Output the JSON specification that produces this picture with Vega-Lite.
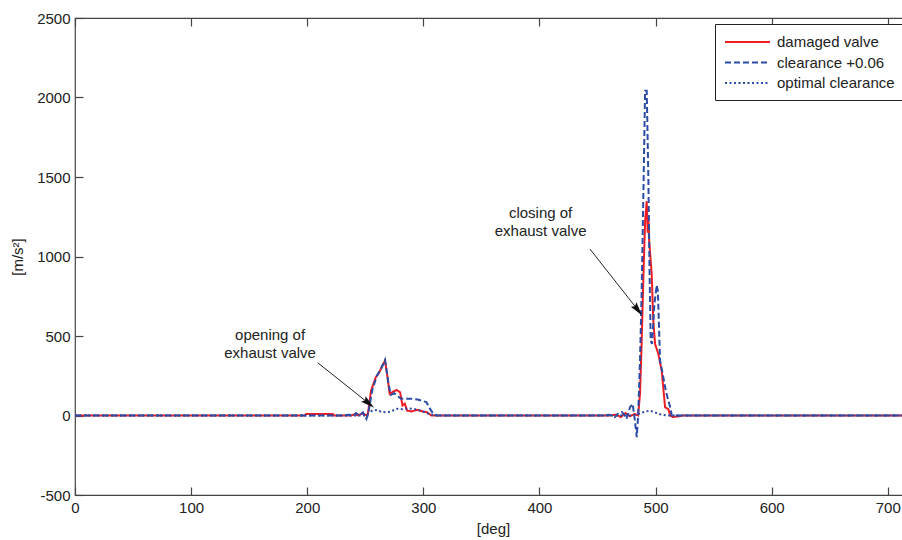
{
  "$schema": "https://vega.github.io/schema/vega-lite/v6.json",
  "width": 836,
  "height": 477,
  "autosize": {"type": "none"},
  "padding": {"left": 75, "top": 18, "right": 0, "bottom": 45},
  "background": "white",
  "config": {
    "font": "Liberation Sans",
    "view": {"stroke": "#444", "strokeWidth": 1.2},
    "axis": {"labelFont": "Liberation Sans", "labelFontSize": 15, "labelColor": "#222", "labelFlush": false, "labelExpr": "'' + datum.value", "titleFont": "Liberation Sans", "titleFontSize": 15, "titleFontWeight": "normal", "titleColor": "#222", "domainColor": "#444", "tickColor": "#444", "tickWidth": 1.2, "grid": false}
  },
  "datasets": {
    "curves": [
      {"deg": 0, "acc": 0, "series": "damaged valve"},
      {"deg": 198, "acc": 0, "series": "damaged valve"},
      {"deg": 199, "acc": 10, "series": "damaged valve"},
      {"deg": 222, "acc": 10, "series": "damaged valve"},
      {"deg": 223, "acc": 0, "series": "damaged valve"},
      {"deg": 238, "acc": 0, "series": "damaged valve"},
      {"deg": 241, "acc": 8, "series": "damaged valve"},
      {"deg": 244, "acc": 0, "series": "damaged valve"},
      {"deg": 247, "acc": 12, "series": "damaged valve"},
      {"deg": 250, "acc": 5, "series": "damaged valve"},
      {"deg": 252, "acc": 0, "series": "damaged valve"},
      {"deg": 255, "acc": 157, "series": "damaged valve"},
      {"deg": 259, "acc": 240, "series": "damaged valve"},
      {"deg": 262, "acc": 270, "series": "damaged valve"},
      {"deg": 264, "acc": 303, "series": "damaged valve"},
      {"deg": 267, "acc": 345, "series": "damaged valve"},
      {"deg": 269, "acc": 250, "series": "damaged valve"},
      {"deg": 271, "acc": 136, "series": "damaged valve"},
      {"deg": 274, "acc": 150, "series": "damaged valve"},
      {"deg": 277, "acc": 161, "series": "damaged valve"},
      {"deg": 280, "acc": 146, "series": "damaged valve"},
      {"deg": 282, "acc": 63, "series": "damaged valve"},
      {"deg": 284, "acc": 75, "series": "damaged valve"},
      {"deg": 286, "acc": 31, "series": "damaged valve"},
      {"deg": 290, "acc": 25, "series": "damaged valve"},
      {"deg": 294, "acc": 35, "series": "damaged valve"},
      {"deg": 297, "acc": 31, "series": "damaged valve"},
      {"deg": 300, "acc": 25, "series": "damaged valve"},
      {"deg": 303, "acc": 21, "series": "damaged valve"},
      {"deg": 307, "acc": 0, "series": "damaged valve"},
      {"deg": 460, "acc": 0, "series": "damaged valve"},
      {"deg": 466, "acc": 5, "series": "damaged valve"},
      {"deg": 470, "acc": -10, "series": "damaged valve"},
      {"deg": 474, "acc": 15, "series": "damaged valve"},
      {"deg": 478, "acc": -5, "series": "damaged valve"},
      {"deg": 482, "acc": 10, "series": "damaged valve"},
      {"deg": 485, "acc": 0, "series": "damaged valve"},
      {"deg": 486.6, "acc": 136, "series": "damaged valve"},
      {"deg": 488, "acc": 450, "series": "damaged valve"},
      {"deg": 489.5, "acc": 867, "series": "damaged valve"},
      {"deg": 491, "acc": 1223, "series": "damaged valve"},
      {"deg": 492.4, "acc": 1348, "series": "damaged valve"},
      {"deg": 493.2, "acc": 1150, "series": "damaged valve"},
      {"deg": 493.8, "acc": 1250, "series": "damaged valve"},
      {"deg": 494.5, "acc": 1100, "series": "damaged valve"},
      {"deg": 496.7, "acc": 888, "series": "damaged valve"},
      {"deg": 498, "acc": 600, "series": "damaged valve"},
      {"deg": 499.6, "acc": 450, "series": "damaged valve"},
      {"deg": 502.4, "acc": 387, "series": "damaged valve"},
      {"deg": 505.3, "acc": 282, "series": "damaged valve"},
      {"deg": 508.2, "acc": 52, "series": "damaged valve"},
      {"deg": 511, "acc": 40, "series": "damaged valve"},
      {"deg": 512.6, "acc": 0, "series": "damaged valve"},
      {"deg": 515, "acc": -10, "series": "damaged valve"},
      {"deg": 520, "acc": -5, "series": "damaged valve"},
      {"deg": 523, "acc": 0, "series": "damaged valve"},
      {"deg": 720, "acc": 0, "series": "damaged valve"},

      {"deg": 0, "acc": 0, "series": "clearance +0.06"},
      {"deg": 230, "acc": 0, "series": "clearance +0.06"},
      {"deg": 236, "acc": 5, "series": "clearance +0.06"},
      {"deg": 240, "acc": 0, "series": "clearance +0.06"},
      {"deg": 242, "acc": 15, "series": "clearance +0.06"},
      {"deg": 245, "acc": 0, "series": "clearance +0.06"},
      {"deg": 248, "acc": 20, "series": "clearance +0.06"},
      {"deg": 251, "acc": -21, "series": "clearance +0.06"},
      {"deg": 253, "acc": 30, "series": "clearance +0.06"},
      {"deg": 256, "acc": 160, "series": "clearance +0.06"},
      {"deg": 260, "acc": 250, "series": "clearance +0.06"},
      {"deg": 264, "acc": 300, "series": "clearance +0.06"},
      {"deg": 267, "acc": 350, "series": "clearance +0.06"},
      {"deg": 270, "acc": 200, "series": "clearance +0.06"},
      {"deg": 272, "acc": 130, "series": "clearance +0.06"},
      {"deg": 275, "acc": 140, "series": "clearance +0.06"},
      {"deg": 278, "acc": 120, "series": "clearance +0.06"},
      {"deg": 281, "acc": 105, "series": "clearance +0.06"},
      {"deg": 285, "acc": 105, "series": "clearance +0.06"},
      {"deg": 290, "acc": 105, "series": "clearance +0.06"},
      {"deg": 295, "acc": 100, "series": "clearance +0.06"},
      {"deg": 300, "acc": 90, "series": "clearance +0.06"},
      {"deg": 302.6, "acc": 84, "series": "clearance +0.06"},
      {"deg": 305, "acc": 50, "series": "clearance +0.06"},
      {"deg": 309, "acc": 6, "series": "clearance +0.06"},
      {"deg": 312, "acc": 0, "series": "clearance +0.06"},
      {"deg": 455, "acc": 0, "series": "clearance +0.06"},
      {"deg": 460, "acc": 5, "series": "clearance +0.06"},
      {"deg": 465, "acc": -10, "series": "clearance +0.06"},
      {"deg": 468, "acc": 15, "series": "clearance +0.06"},
      {"deg": 471, "acc": 21, "series": "clearance +0.06"},
      {"deg": 473, "acc": 5, "series": "clearance +0.06"},
      {"deg": 475, "acc": -21, "series": "clearance +0.06"},
      {"deg": 478, "acc": 52, "series": "clearance +0.06"},
      {"deg": 480.3, "acc": 73, "series": "clearance +0.06"},
      {"deg": 482, "acc": -20, "series": "clearance +0.06"},
      {"deg": 483.8, "acc": -136, "series": "clearance +0.06"},
      {"deg": 485, "acc": 0, "series": "clearance +0.06"},
      {"deg": 486.6, "acc": 345, "series": "clearance +0.06"},
      {"deg": 488, "acc": 763, "series": "clearance +0.06"},
      {"deg": 489.5, "acc": 1390, "series": "clearance +0.06"},
      {"deg": 491, "acc": 2042, "series": "clearance +0.06"},
      {"deg": 492.4, "acc": 2042, "series": "clearance +0.06"},
      {"deg": 493.8, "acc": 1494, "series": "clearance +0.06"},
      {"deg": 494.7, "acc": 972, "series": "clearance +0.06"},
      {"deg": 495.8, "acc": 470, "series": "clearance +0.06"},
      {"deg": 497, "acc": 450, "series": "clearance +0.06"},
      {"deg": 499, "acc": 700, "series": "clearance +0.06"},
      {"deg": 501, "acc": 820, "series": "clearance +0.06"},
      {"deg": 502, "acc": 780, "series": "clearance +0.06"},
      {"deg": 503.9, "acc": 345, "series": "clearance +0.06"},
      {"deg": 506.7, "acc": 240, "series": "clearance +0.06"},
      {"deg": 509, "acc": 150, "series": "clearance +0.06"},
      {"deg": 511, "acc": 94, "series": "clearance +0.06"},
      {"deg": 512.6, "acc": 52, "series": "clearance +0.06"},
      {"deg": 514, "acc": 0, "series": "clearance +0.06"},
      {"deg": 720, "acc": 0, "series": "clearance +0.06"},

      {"deg": 0, "acc": 0, "series": "optimal clearance"},
      {"deg": 250, "acc": 0, "series": "optimal clearance"},
      {"deg": 253, "acc": 15, "series": "optimal clearance"},
      {"deg": 256, "acc": 31, "series": "optimal clearance"},
      {"deg": 260, "acc": 35, "series": "optimal clearance"},
      {"deg": 264, "acc": 22, "series": "optimal clearance"},
      {"deg": 268, "acc": 21, "series": "optimal clearance"},
      {"deg": 272, "acc": 25, "series": "optimal clearance"},
      {"deg": 277, "acc": 42, "series": "optimal clearance"},
      {"deg": 282, "acc": 40, "series": "optimal clearance"},
      {"deg": 288, "acc": 45, "series": "optimal clearance"},
      {"deg": 293, "acc": 40, "series": "optimal clearance"},
      {"deg": 298, "acc": 30, "series": "optimal clearance"},
      {"deg": 303, "acc": 15, "series": "optimal clearance"},
      {"deg": 310, "acc": 0, "series": "optimal clearance"},
      {"deg": 480, "acc": 0, "series": "optimal clearance"},
      {"deg": 486, "acc": 10, "series": "optimal clearance"},
      {"deg": 489.5, "acc": 21, "series": "optimal clearance"},
      {"deg": 495, "acc": 31, "series": "optimal clearance"},
      {"deg": 501, "acc": 15, "series": "optimal clearance"},
      {"deg": 505, "acc": 5, "series": "optimal clearance"},
      {"deg": 510, "acc": 0, "series": "optimal clearance"},
      {"deg": 720, "acc": 0, "series": "optimal clearance"}
    ],
    "arrows": [
      {"name": "opening", "x1": 209, "y1": 332, "x2": 252, "y2": 82},
      {"name": "closing", "x1": 443.5, "y1": 1047, "x2": 484, "y2": 671}
    ],
    "notes": [
      {"deg": 168, "acc": 505, "text": "opening of\nexhaust valve"},
      {"deg": 401, "acc": 1275, "text": "closing of\nexhaust valve"}
    ]
  },
  "resolve": {"axis": {"x": "independent"}},
  "layer": [
    {
      "data": {"name": "curves"},
      "mark": {"type": "line", "strokeWidth": 2, "clip": true},
      "encoding": {
        "x": {"field": "deg", "type": "quantitative", "scale": {"domain": [0, 720], "nice": false, "zero": false},
              "axis": {"orient": "bottom", "values": [0, 100, 200, 300, 400, 500, 600, 700], "title": "[deg]", "offset": -8, "tickSize": 8, "labelPadding": 5, "titlePadding": 6, "domain": false}},
        "y": {"field": "acc", "type": "quantitative", "scale": {"domain": [-500, 2500], "nice": false, "zero": false},
              "axis": {"values": [-500, 0, 500, 1000, 1500, 2000, 2500], "title": "[m/s²]", "offset": -8, "tickSize": 8, "labelPadding": 5, "titlePadding": 11, "domain": false}},
        "color": {"field": "series", "type": "nominal",
                  "scale": {"domain": ["damaged valve", "clearance +0.06", "optimal clearance"], "range": ["#ee1d23", "#2b4ba6", "#2b4ba6"]},
                  "legend": {"title": null, "orient": "none", "legendX": 640, "legendY": 6, "symbolType": "M-1,0H4.625", "symbolSize": 256, "symbolStrokeWidth": 2, "symbolFillColor": "transparent", "labelOffset": 35, "labelFontSize": 15, "labelFont": "Liberation Sans", "labelColor": "#222", "strokeColor": "#222", "fillColor": "white", "padding": 9, "cornerRadius": 0, "rowPadding": 3.5}},
        "strokeDash": {"field": "series", "type": "nominal",
                  "scale": {"domain": ["damaged valve", "clearance +0.06", "optimal clearance"], "range": [[1, 0], [6, 3], [2, 2.5]]},
                  "legend": {"title": null, "orient": "none", "legendX": 640, "legendY": 6, "symbolType": "M-1,0H4.625", "symbolSize": 256, "symbolStrokeWidth": 2, "symbolFillColor": "transparent", "labelOffset": 35, "labelFontSize": 15, "labelFont": "Liberation Sans", "labelColor": "#222", "strokeColor": "#222", "fillColor": "white", "padding": 9, "cornerRadius": 0, "rowPadding": 3.5}}
      }
    },
    {
      "data": {"name": "arrows"},
      "mark": {"type": "rule", "color": "#222", "strokeWidth": 1},
      "encoding": {
        "x": {"field": "x1", "type": "quantitative", "axis": null},
        "y": {"field": "y1", "type": "quantitative",
              "axis": {"values": [-500, 0, 500, 1000, 1500, 2000, 2500], "title": "[m/s²]", "offset": -8, "tickSize": 8, "labelPadding": 5, "titlePadding": 11, "domain": false}},
        "x2": {"field": "x2"},
        "y2": {"field": "y2"}
      }
    },
    {
      "data": {"name": "arrows"},
      "transform": [{"filter": "datum.name == 'opening'"}],
      "mark": {"type": "point", "shape": "M0,-1L0.42,0.65L0,0.4L-0.42,0.65Z", "filled": true, "color": "#111", "opacity": 1, "size": 280, "angle": 129},
      "encoding": {
        "x": {"field": "x2", "type": "quantitative", "axis": null},
        "y": {"field": "y2", "type": "quantitative",
              "axis": {"values": [-500, 0, 500, 1000, 1500, 2000, 2500], "title": "[m/s²]", "offset": -8, "tickSize": 8, "labelPadding": 5, "titlePadding": 11, "domain": false}}
      }
    },
    {
      "data": {"name": "arrows"},
      "transform": [{"filter": "datum.name == 'closing'"}],
      "mark": {"type": "point", "shape": "M0,-1L0.42,0.65L0,0.4L-0.42,0.65Z", "filled": true, "color": "#111", "opacity": 1, "size": 280, "angle": 142},
      "encoding": {
        "x": {"field": "x2", "type": "quantitative", "axis": null},
        "y": {"field": "y2", "type": "quantitative",
              "axis": {"values": [-500, 0, 500, 1000, 1500, 2000, 2500], "title": "[m/s²]", "offset": -8, "tickSize": 8, "labelPadding": 5, "titlePadding": 11, "domain": false}}
      }
    },
    {
      "data": {"name": "notes"},
      "mark": {"type": "text", "font": "Liberation Sans", "fontSize": 15, "color": "#222", "lineBreak": "\n", "lineHeight": 18, "align": "center", "baseline": "middle"},
      "encoding": {
        "x": {"field": "deg", "type": "quantitative",
              "axis": {"orient": "top", "values": [0, 100, 200, 300, 400, 500, 600, 700], "labels": false, "title": null, "offset": -8, "tickSize": 8, "domain": false}},
        "y": {"field": "acc", "type": "quantitative",
              "axis": {"values": [-500, 0, 500, 1000, 1500, 2000, 2500], "title": "[m/s²]", "offset": -8, "tickSize": 8, "labelPadding": 5, "titlePadding": 11, "domain": false}},
        "text": {"field": "text"}
      }
    }
  ]
}
